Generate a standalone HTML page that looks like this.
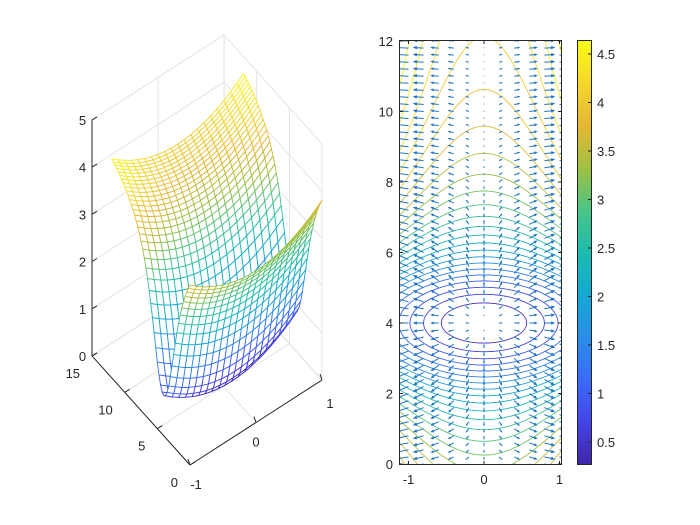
<!DOCTYPE html>
<html><head><meta charset="utf-8"><style>
html,body{margin:0;padding:0;background:#fff;}
svg{display:block;font-family:"Liberation Sans",sans-serif;}
</style></head><body>
<svg id="s" width="700" height="525" viewBox="0 0 700 525" xmlns="http://www.w3.org/2000/svg">
<rect width="700" height="525" fill="#fff"/>
<defs><clipPath id="cp"><rect x="399" y="40" width="163" height="425"/></clipPath>
<linearGradient id="cb" x1="0" y1="1" x2="0" y2="0">
<stop offset="0" stop-color="#3e26a8"/><stop offset="0.1" stop-color="#4544e8"/><stop offset="0.2" stop-color="#3a6bfc"/><stop offset="0.3" stop-color="#2a8ee8"/><stop offset="0.4" stop-color="#13a9d3"/><stop offset="0.5" stop-color="#1cbcae"/><stop offset="0.6" stop-color="#4ac486"/><stop offset="0.7" stop-color="#a0c040"/><stop offset="0.8" stop-color="#e6b734"/><stop offset="0.9" stop-color="#f5d82a"/><stop offset="1" stop-color="#f9fb15"/>
</linearGradient></defs>
<g id="g3"></g>
<g id="g2"></g>
</svg>
<script>
var NS="http://www.w3.org/2000/svg";
function el(p,t,a,txt){var e=document.createElementNS(NS,t);for(var k in a)e.setAttribute(k,a[k]);if(txt!==undefined)e.textContent=txt;p.appendChild(e);return e;}
var stops=[[0,[62,38,168]],[0.1,[69,68,232]],[0.2,[58,107,252]],[0.3,[42,142,232]],[0.4,[19,169,211]],[0.5,[28,188,174]],[0.6,[74,196,134]],[0.7,[160,192,64]],[0.8,[230,183,52]],[0.9,[245,216,42]],[1,[249,251,21]]];
function par(t){t=Math.max(0,Math.min(1,t));for(var i=1;i<stops.length;i++){if(t<=stops[i][0]){var a=stops[i-1],b=stops[i],f=(t-a[0])/(b[0]-a[0]);var c=[0,1,2].map(function(j){return Math.round(a[1][j]+f*(b[1][j]-a[1][j]));});return "rgb("+c.join(",")+")";}}return "rgb(249,251,21)";}
// H(d) numeric table
var AA=1.8,QQ=3;
function Hp(d){var s=d<0?-1:1;d=Math.abs(d);return s*2*d/(1+Math.pow(d/AA,QQ));}
var HT=[0],DH=0.01;for(var i=1;i<=1000;i++){var d=i*DH;HT.push(HT[i-1]+DH*(Hp(d-DH/2)));}
function H(d){d=Math.abs(d);var i=Math.min(999,Math.floor(d/DH));var t=d/DH-i;return HT[i]+t*(HT[i+1]-HT[i]);}
var zmin=0.26,zmax=4.64;
var C=(zmax-zmin)/(1+H(8));
function f(x,y){return zmin+C*(x*x+H(y-4));}
function fy(y){return C*Hp(y-4);}
function cz(z){return par((z-zmin)/(zmax-zmin));}
// ---------- 3D ----------
var g3=document.getElementById("g3");
function P(x,y,z){return [190+(x+1)*66-y*6.53, 465-(x+1)*42.5-y*7.27-z*47.2];}
function line(g,a,b,c,w){el(g,"line",{x1:a[0].toFixed(1),y1:a[1].toFixed(1),x2:b[0].toFixed(1),y2:b[1].toFixed(1),stroke:c,"stroke-width":w||1});}
var gc="#e3e3e3";
for(var z=0;z<=5;z++){line(g3,P(-1,15,z),P(1,15,z),gc);line(g3,P(1,15,z),P(1,0,z),gc);}
[-1,0,1].forEach(function(x){line(g3,P(x,15,0),P(x,15,5),gc);line(g3,P(x,0,0),P(x,15,0),gc);});
[0,5,10,15].forEach(function(y){line(g3,P(1,y,0),P(1,y,5),gc);line(g3,P(-1,y,0),P(1,y,0),gc);});
var ak="#262626";
line(g3,P(-1,15,0),P(-1,15,5),ak);
line(g3,P(-1,0,0),P(-1,15,0),ak);
line(g3,P(-1,0,0),P(1,0,0),ak);
for(var z=0;z<=5;z++){var p=P(-1,15,z);line(g3,p,[p[0]+5,p[1]-3],ak);el(g3,"text",{x:p[0]-6,y:p[1]+5,"font-size":13,"text-anchor":"end",fill:"#262626"},z);}
[0,5,10,15].forEach(function(y){var p=P(-1,y,0);line(g3,p,[p[0]+5,p[1]-3],ak);el(g3,"text",{x:p[0]-12,y:p[1]+22,"font-size":13,"text-anchor":"end",fill:"#262626"},y);});
[-1,0,1].forEach(function(x){var p=P(x,0,0);line(g3,p,[p[0]-2,p[1]-6],ak);el(g3,"text",{x:p[0]+(x==1?8:x==0?0:6),y:p[1]+(x==1?28:24),"font-size":13,"text-anchor":"middle",fill:"#262626"},x);});
var xs=[],ys=[];for(var i=0;i<=20;i++)xs.push(-1+i*0.1);for(var j=0;j<=48;j++)ys.push(j*0.25);
var quads=[];
for(var i=0;i<20;i++)for(var j=0;j<48;j++){var x0=xs[i],x1=xs[i+1],y0=ys[j],y1=ys[j+1];var zz=[f(x0,y0),f(x1,y0),f(x1,y1),f(x0,y1)];quads.push({d:85*((x0+x1)/2+1)/2+109*((y0+y1)/30),pts:[P(x0,y0,zz[0]),P(x1,y0,zz[1]),P(x1,y1,zz[2]),P(x0,y1,zz[3])],z:(zz[0]+zz[1]+zz[2]+zz[3])/4});}
quads.sort(function(a,b){return b.d-a.d;});
var gm=el(g3,"g",{});
quads.forEach(function(q){el(gm,"polygon",{points:q.pts.map(function(p){return p[0].toFixed(1)+","+p[1].toFixed(1);}).join(" "),fill:"#fff",stroke:cz(q.z),"stroke-width":0.9,"stroke-linejoin":"round"});});
// ---------- 2D ----------
var g2=document.getElementById("g2");
function X(x){return 484+x*75.5;}function Y(y){return 464-y*35.25;}
var gp=el(g2,"g",{"clip-path":"url(#cp)"});
var nx=160,ny=480,x0=-1.12,x1=1.1,y0=0,y1=12.05;
var G=[];for(var j=0;j<=ny;j++){G.push([]);for(var i=0;i<=nx;i++){G[j].push(f(x0+(x1-x0)*i/nx,y0+(y1-y0)*j/ny));}}
function gx(i){return X(x0+(x1-x0)*i/nx);}function gy(j){return Y(y0+(y1-y0)*j/ny);}
for(var L=0.45;L<4.7;L+=0.19){var d="";
for(var j=0;j<ny;j++)for(var i=0;i<nx;i++){var v=[G[j][i],G[j][i+1],G[j+1][i+1],G[j+1][i]];var c=[[i,j],[i+1,j],[i+1,j+1],[i,j+1]];var pts=[];
for(var k=0;k<4;k++){var a=v[k],b=v[(k+1)%4];if((a<L)!=(b<L)){var t=(L-a)/(b-a);var ca=c[k],cb=c[(k+1)%4];pts.push([gx(ca[0]+t*(cb[0]-ca[0])),gy(ca[1]+t*(cb[1]-ca[1]))]);}}
if(pts.length>=2)d+="M"+pts[0][0].toFixed(1)+" "+pts[0][1].toFixed(1)+"L"+pts[1][0].toFixed(1)+" "+pts[1][1].toFixed(1);
if(pts.length==4)d+="M"+pts[2][0].toFixed(1)+" "+pts[2][1].toFixed(1)+"L"+pts[3][0].toFixed(1)+" "+pts[3][1].toFixed(1);}
el(gp,"path",{d:d,fill:"none",stroke:cz(L),"stroke-width":0.9});}
var qd="";var s=12/(2*C*75.5);
for(var xi=-1;xi<=1.001;xi+=0.2)for(var yi=0;yi<=12.001;yi+=0.2){var u=2*C*xi*75.5*s,v=-fy(yi)*35.25*s;var px=X(xi),py=Y(yi);var ex=px+u,ey=py+v;qd+="M"+px.toFixed(1)+" "+py.toFixed(1)+"L"+ex.toFixed(1)+" "+ey.toFixed(1);
var len=Math.sqrt(u*u+v*v);if(len>2){var ux=u/len,uy=v/len,h=Math.min(3,len*0.3);qd+="M"+(ex-h*ux-h*0.4*uy).toFixed(1)+" "+(ey-h*uy+h*0.4*ux).toFixed(1)+"L"+ex.toFixed(1)+" "+ey.toFixed(1)+"L"+(ex-h*ux+h*0.4*uy).toFixed(1)+" "+(ey-h*uy-h*0.4*ux).toFixed(1);}}
el(gp,"path",{d:qd,fill:"none",stroke:"#1f77c4","stroke-width":1});
el(g2,"rect",{x:399.5,y:40.5,width:162,height:424,fill:"none",stroke:"#262626","stroke-width":1});
[-1,0,1].forEach(function(x){var p=X(x);line(g2,[p,465],[p,461],ak);line(g2,[p,40],[p,44],ak);el(g2,"text",{x:p,y:484,"font-size":13,"text-anchor":"middle",fill:"#262626"},x);});
for(var y=0;y<=12;y+=2){var p=Y(y);line(g2,[399,p],[403,p],ak);line(g2,[562,p],[558,p],ak);el(g2,"text",{x:393,y:p+5,"font-size":13,"text-anchor":"end",fill:"#262626"},y);}
el(g2,"rect",{x:577,y:40,width:15,height:425,fill:"url(#cb)"});
el(g2,"rect",{x:577.5,y:40.5,width:14,height:424,fill:"none",stroke:"#262626","stroke-width":1});
for(var t=0.5;t<=4.51;t+=0.5){var p=442-(t-0.5)*97;line(g2,[588,p],[592,p],ak);el(g2,"text",{x:597,y:p+5,"font-size":13,fill:"#262626"},(Math.round(t*10)/10).toString());}
</script>
</body></html>
